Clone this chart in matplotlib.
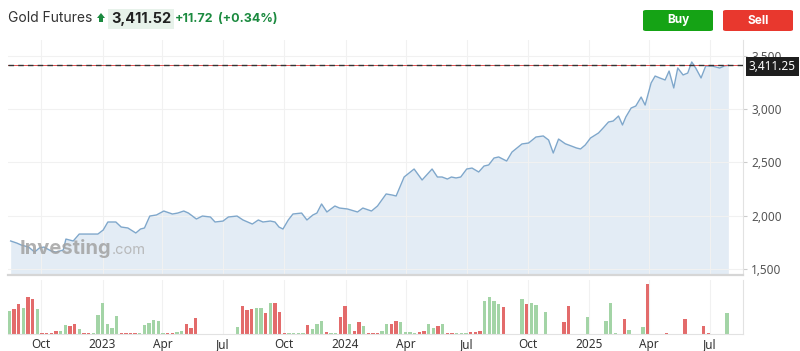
import pandas as pd
import numpy as np
import matplotlib
matplotlib.use("Agg")
import matplotlib.pyplot as plt
import matplotlib.dates as mdates
from matplotlib.patches import FancyBboxPatch, Polygon
from matplotlib.ticker import FuncFormatter

plt.rcParams['font.family'] = ['Inter', 'DejaVu Sans']

# weekly closes
price_dates = [
    "2022-08-16", "2022-08-25", "2022-09-01", "2022-09-12", "2022-09-21", "2022-09-28",
    "2022-10-05", "2022-10-16", "2022-10-23", "2022-11-03", "2022-11-07", "2022-11-18",
    "2022-11-27", "2022-12-10", "2022-12-25", "2023-01-02", "2023-01-09", "2023-01-21",
    "2023-01-29", "2023-02-08", "2023-02-20", "2023-02-27", "2023-03-05", "2023-03-13",
    "2023-03-23", "2023-04-03", "2023-04-16", "2023-04-24", "2023-05-03", "2023-05-10",
    "2023-05-22", "2023-05-31", "2023-06-12", "2023-06-19", "2023-07-01", "2023-07-09",
    "2023-07-22", "2023-07-31", "2023-08-14", "2023-08-23", "2023-08-30", "2023-09-10",
    "2023-09-17", "2023-09-23", "2023-09-29", "2023-10-07", "2023-10-14", "2023-10-27",
    "2023-11-04", "2023-11-13", "2023-11-19", "2023-11-26", "2023-12-04", "2023-12-16",
    "2023-12-23", "2024-01-04", "2024-01-19", "2024-01-27", "2024-02-09", "2024-02-18",
    "2024-03-02", "2024-03-11", "2024-03-17", "2024-03-29", "2024-04-13", "2024-04-25",
    "2024-05-10", "2024-05-18", "2024-05-25", "2024-06-02", "2024-06-08", "2024-06-15",
    "2024-06-22", "2024-07-01", "2024-07-09", "2024-07-19", "2024-07-27", "2024-08-03",
    "2024-08-11", "2024-08-18", "2024-08-30", "2024-09-07", "2024-09-22", "2024-10-02",
    "2024-10-13", "2024-10-24", "2024-11-01", "2024-11-08", "2024-11-16", "2024-11-26",
    "2024-12-05", "2024-12-13", "2024-12-19", "2024-12-26", "2025-01-03", "2025-01-15",
    "2025-01-22", "2025-01-30", "2025-02-06", "2025-02-14", "2025-02-20", "2025-02-25",
    "2025-03-05", "2025-03-12", "2025-03-20", "2025-03-26", "2025-04-04", "2025-04-10",
    "2025-04-17", "2025-04-25", "2025-05-01", "2025-05-08", "2025-05-14", "2025-05-22",
    "2025-05-29", "2025-06-04", "2025-06-10", "2025-06-18", "2025-06-25", "2025-07-05",
    "2025-07-16", "2025-07-23", "2025-07-29",
]
prices = [
    1763, 1744, 1725, 1706, 1659, 1697,
    1706, 1669, 1659, 1678, 1781, 1763,
    1828, 1828, 1828, 1866, 1941, 1941,
    1894, 1885, 1838, 1875, 1885, 1997,
    2007, 2044, 2016, 2025, 2044, 2025,
    1969, 1997, 1988, 1941, 1950, 1988,
    1997, 1960, 1922, 1960, 1941, 1950,
    1941, 1894, 1875, 1960, 2016, 2025,
    1960, 2007, 2025, 2110, 2035, 2091,
    2072, 2063, 2035, 2072, 2044, 2091,
    2204, 2194, 2185, 2363, 2438, 2335,
    2438, 2363, 2363, 2344, 2363, 2354,
    2363, 2438, 2447, 2410, 2466, 2476,
    2541, 2551, 2513, 2597, 2673, 2682,
    2738, 2748, 2710, 2588, 2719, 2675,
    2654, 2635, 2626, 2663, 2729, 2776,
    2823, 2879, 2888, 2935, 2851, 2926,
    3010, 3029, 3113, 3038, 3245, 3310,
    3292, 3273, 3357, 3198, 3385, 3320,
    3338, 3442, 3385, 3292, 3404, 3404,
    3385, 3404, 3411.25,
]
last_price = 3411.25

# weekly volume (thousands), one bar per week from 2022-08-14
volume = [
    227, 247, 300, 257, 373, 353, 247, 7, 7, 7,
    27, 33, 93, 77, 97, 47, 7, 7, 7, 187,
    310, 97, 60, 177, 7, 7, 7, 7, 10, 87,
    113, 137, 130, 7, 7, 7, 17, 33, 97, 60,
    157, 0, 0, 0, 0, 0, 0, 5, 5, 70,
    277, 243, 247, 263, 257, 213, 310, 313, 220, 7,
    10, 10, 10, 10, 87, 47, 97, 130, 17, 13,
    7, 167, 283, 103, 33, 123, 77, 7, 7, 7,
    27, 97, 97, 133, 120, 17, 23, 7, 20, 33,
    103, 57, 83, 103, 7, 7, 7, 7, 13, 17,
    20, 27, 327, 370, 330, 297, 273, 0, 0, 0,
    353, 297, 310, 287, 0, 217, 0, 0, 0, 120,
    283, 0, 0, 0, 167, 0, 0, 0, 130, 310,
    7, 0, 147, 40, 0, 0, 73, 497, 0, 0,
    0, 13, 0, 0, 0, 147, 0, 0, 0, 77,
    7, 0, 0, 0, 213,
]
# g = up week, r = down week, same order as volume
vol_dir = "".join([
    "grrgrrgrrr", "rggrrgrrgg", "ggggrrrrgg", "ggggrrggrr", "rggggggggg",
    "rrrggrgrrr", "ggggrgggrg", "grrgrrgrrr", "ggrrggggrr", "ggrgrrgggr",
    "rrggggrggg", "grgggggggr", "rggggggggg", "ggrggggrgg", "grgggrgggr",
    "rgggg",
])

tick_months = [1, 4, 7, 10]

d = pd.to_datetime(price_dates)
vd = pd.date_range("2022-08-14", periods=len(volume), freq="7D")

def fx(px):
    return px / 800

def fy(py):
    return 1 - py / 351

fig = plt.figure(figsize=(8, 3.51), dpi=100)
ax = fig.add_axes([fx(8), fy(275), fx(743) - fx(8), fy(40) - fy(275)])
axv = fig.add_axes([fx(8), fy(334), fx(743) - fx(8), fy(280) - fy(334)], sharex=ax)

line_c = "#7fa7cb"
ax.fill_between(d, prices, 1000, color="#e3ecf5", lw=0, zorder=1)
ax.plot(d, prices, color=line_c, lw=1.0, zorder=3)

ax.axhline(last_price, color="#e05050", lw=0.7, zorder=4)
ax.axhline(last_price, color="#333333", lw=1.0, dashes=(4, 3), zorder=5)

ax.set_ylim(1444, 3648)
ax.set_xlim(pd.Timestamp("2022-08-12"), pd.Timestamp("2025-08-20"))
ax.yaxis.tick_right()
ax.set_yticks([1500, 2000, 2500, 3000, 3500])
ax.yaxis.set_major_formatter(FuncFormatter(lambda v, p: "{:,.0f}".format(v)))
ax.tick_params(axis="y", length=3, color="#cccccc", labelsize=8.5, labelcolor="#555555", pad=3)
ax.tick_params(axis="x", length=0, labelbottom=False)
ax.xaxis.set_major_locator(mdates.MonthLocator(bymonth=tick_months))
ax.grid(True, color="#f1f1f1", lw=0.8, zorder=0)
for s in ["top", "left"]:
    ax.spines[s].set_visible(False)
ax.spines["bottom"].set_color("#d6d6d6")
ax.spines["bottom"].set_linewidth(1.6)
ax.spines["right"].set_color("#e2e2e2")

# last price tag
ax.annotate("{:,.2f}".format(last_price), xy=(1.0, last_price), xycoords=("axes fraction", "data"),
            xytext=(4, -1), textcoords="offset points", va="center", ha="left",
            fontsize=8.5, color="white", family=["Noto Sans", "DejaVu Sans"],
            bbox=dict(boxstyle="square,pad=0.25", fc="#1e1e1e", ec="none"), annotation_clip=False, zorder=10)

# watermark
fig.text(fx(20), fy(254), "Investing", fontsize=14.5, fontweight="bold", color="#a2a2a2", alpha=0.85, zorder=20)
fig.text(fx(112), fy(254), ".com", fontsize=10.5, color="#b0b0b0", alpha=0.85, zorder=20)

# volume bars
colors = ["#a3d4a6" if c == "g" else "#e36b6b" for c in vol_dir]
axv.bar(vd, volume, width=5, color=colors, lw=0, zorder=2)
axv.set_ylim(0, 540)
axv.set_yticks([])
axv.xaxis.set_major_locator(mdates.MonthLocator(bymonth=tick_months))
axv.xaxis.set_major_formatter(FuncFormatter(
    lambda v, p: str(mdates.num2date(v).year) if mdates.num2date(v).month == 1 else mdates.num2date(v).strftime("%b")))
axv.tick_params(axis="x", length=0, labelsize=8.5, labelcolor="#333333", pad=3)
axv.grid(True, axis="x", color="#f1f1f1", lw=0.8, zorder=0)
for s in ["top", "left"]:
    axv.spines[s].set_visible(False)
axv.spines["bottom"].set_color("#e2e2e2")
axv.spines["right"].set_color("#e2e2e2")
for lab in axv.get_xticklabels():
    lab.set_family(["Noto Sans", "DejaVu Sans"])
for lab in ax.get_yticklabels():
    lab.set_family(["Noto Sans", "DejaVu Sans"])

# header
fig.text(fx(8), fy(22), "Gold Futures", fontsize=10, color="#333333")
arrow = Polygon([[fx(97), fy(18)], [fx(101), fy(13)], [fx(105), fy(18)], [fx(103), fy(18)],
                 [fx(103), fy(22)], [fx(99), fy(22)], [fx(99), fy(18)]],
                closed=True, transform=fig.transFigure, color="#1b8a3f", lw=0)
fig.patches.append(arrow)
fig.text(fx(111), fy(23), "3,411.52", fontsize=10.5, fontweight="bold", color="#222222",
         bbox=dict(boxstyle="square,pad=0.2", fc="#e7f2ea", ec="none"))
fig.text(fx(175), fy(22), "+11.72", fontsize=9, fontweight="bold", color="#1b8a3f")
fig.text(fx(218), fy(22), "(+0.34%)", fontsize=9, fontweight="bold", color="#1b8a3f")

for x0, label, col in [(643, "Buy", "#15a315"), (723, "Sell", "#e8382e")]:
    btn = FancyBboxPatch((fx(x0), fy(31)), fx(70), fy(10) - fy(31),
                         boxstyle="round,pad=0,rounding_size=0.004", transform=fig.transFigure,
                         fc=col, ec="none")
    fig.patches.append(btn)
    fig.text(fx(x0 + 35), fy(20.5), label, ha="center", va="center", fontsize=8.5,
             fontweight="bold", color="white")

fig.savefig("out.png", dpi=100)
